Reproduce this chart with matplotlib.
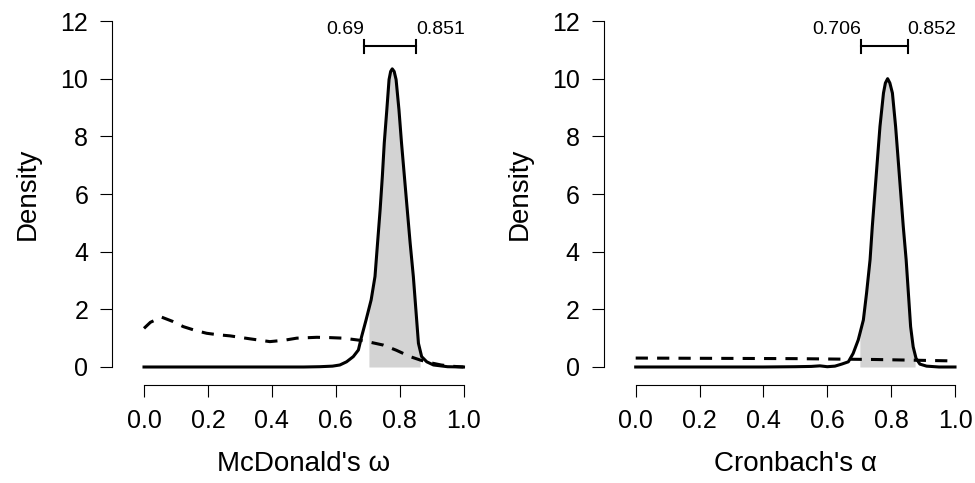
import numpy as np
import matplotlib
matplotlib.use("Agg")
import matplotlib.pyplot as plt

plt.rcParams['font.family'] = ['Liberation Sans', 'DejaVu Sans']

# posterior (solid) and prior (dashed) densities
omega_x = [0.0, 0.1, 0.2, 0.3, 0.4, 0.5, 0.55, 0.59, 0.613, 0.634, 0.655, 0.671, 0.681,
           0.695, 0.711, 0.723, 0.731, 0.739, 0.746, 0.752, 0.760, 0.767, 0.772, 0.777,
           0.783, 0.789, 0.798, 0.806, 0.815, 0.824, 0.833, 0.843, 0.851, 0.859, 0.869,
           0.885, 0.906, 0.95, 1.0]
omega_post = [0.0, 0.0, 0.0, 0.0, 0.0, 0.0, 0.01, 0.03, 0.07, 0.18, 0.36, 0.59, 1.05,
              1.63, 2.33, 3.14, 4.30, 5.45, 6.61, 7.77, 8.92, 9.97, 10.25, 10.34,
              10.25, 9.97, 8.92, 7.77, 6.61, 5.45, 4.30, 3.14, 1.98, 0.82, 0.36,
              0.18, 0.07, 0.01, 0.0]
omega_prior_x = [0.0, 0.02, 0.055, 0.09, 0.123, 0.16, 0.196, 0.23, 0.269, 0.33, 0.394,
                 0.44, 0.478, 0.541, 0.58, 0.624, 0.687, 0.749, 0.79, 0.833, 0.865,
                 0.895, 0.93, 0.958, 1.0]
omega_prior = [1.34, 1.55, 1.73, 1.58, 1.40, 1.27, 1.17, 1.12, 1.08, 0.98, 0.88,
               0.93, 1.00, 1.03, 1.02, 1.00, 0.91, 0.76, 0.58, 0.36, 0.24,
               0.15, 0.07, 0.03, 0.0]

alpha_x = [0.0, 0.1, 0.2, 0.3, 0.4, 0.5, 0.55, 0.577, 0.60, 0.624, 0.645, 0.666, 0.681,
           0.697, 0.713, 0.723, 0.734, 0.741, 0.749, 0.757, 0.765, 0.776, 0.782, 0.789,
           0.796, 0.804, 0.814, 0.822, 0.830, 0.838, 0.847, 0.854, 0.861, 0.869, 0.878,
           0.890, 0.911, 0.95, 1.0]
alpha_post = [0.0, 0.0, 0.0, 0.0, 0.0, 0.01, 0.02, 0.04, 0.01, 0.03, 0.10, 0.18, 0.47,
              0.94, 1.63, 2.56, 3.72, 4.87, 6.03, 7.19, 8.34, 9.50, 9.85, 10.0,
              9.85, 9.50, 8.34, 7.19, 6.03, 4.87, 3.72, 2.56, 1.40, 0.70, 0.30,
              0.10, 0.03, 0.0, 0.0]
alpha_prior_x = [0.0, 0.25, 0.5, 0.75, 1.0]
alpha_prior = [0.31, 0.30, 0.29, 0.26, 0.21]

omega_ci = [0.69, 0.851]
alpha_ci = [0.706, 0.852]
omega_shade = [0.704, 0.864]
alpha_shade = [0.702, 0.875]

xlabels = ["McDonald's \u03c9", "Cronbach's \u03b1"]

fig = plt.figure(figsize=(9.75, 4.83), dpi=100)
ax1 = fig.add_axes([144 / 975, 1 - 367 / 483, 319.5 / 975, 346 / 483])
ax2 = fig.add_axes([635.7 / 975, 1 - 367 / 483, 319.3 / 975, 346 / 483])

panels = [
    (ax1, omega_x, omega_post, omega_prior_x, omega_prior, omega_ci, omega_shade, xlabels[0]),
    (ax2, alpha_x, alpha_post, alpha_prior_x, alpha_prior, alpha_ci, alpha_shade, xlabels[1]),
]

for ax, px, py, qx, qy, ci, shade, lab in panels:
    px = np.array(px)
    py = np.array(py)
    # shaded area under the posterior
    inside = (px > shade[0]) & (px < shade[1])
    sx = np.concatenate([[shade[0]], px[inside], [shade[1]]])
    sy = np.concatenate([[np.interp(shade[0], px, py)], py[inside], [np.interp(shade[1], px, py)]])
    ax.fill_between(sx, 0, sy, color='#d3d3d3', lw=0, zorder=1)

    ax.plot(qx, qy, color='black', lw=2.2, linestyle=(0, (4, 3)), zorder=2, clip_on=False)
    ax.plot(px, py, color='black', lw=2.2, zorder=3, solid_joinstyle='round', clip_on=False)

    # credible interval bar
    ybar = 11.12
    ax.plot(ci, [ybar, ybar], color='black', lw=1.5, zorder=3)
    for c in ci:
        ax.plot([c, c], [ybar - 0.23, ybar + 0.23], color='black', lw=1.5, zorder=3)
    ax.text(ci[0], 11.72, str(ci[0]), ha='right', va='center', fontsize=14)
    ax.text(ci[1], 11.72, str(ci[1]), ha='left', va='center', fontsize=14)

    ax.set_xlim(0, 1)
    ax.set_ylim(0, 12)
    ax.set_xticks(np.arange(0, 1.01, 0.2))
    ax.set_xticklabels(['0.0', '0.2', '0.4', '0.6', '0.8', '1.0'])
    ax.set_yticks(np.arange(0, 13, 2))

    for s in ['top', 'right']:
        ax.spines[s].set_visible(False)
    ax.spines['left'].set_position(('outward', 23))
    ax.spines['bottom'].set_position(('outward', 12.7))
    ax.spines['left'].set_bounds(0, 12)
    ax.spines['bottom'].set_bounds(0, 1)
    ax.spines['left'].set_linewidth(0.8)
    ax.spines['bottom'].set_linewidth(0.8)
    ax.tick_params(axis='x', length=8.9, width=0.8, pad=9, labelsize=18)
    ax.tick_params(axis='y', length=8.6, width=0.8, pad=8.6, labelsize=18)

    ax.set_xlabel(lab, fontsize=20, va='center')
    ax.xaxis.set_label_coords(0.5, (367 - 464) / 346)
    ax.set_ylabel('Density', fontsize=20, va='center')
    ax.yaxis.set_label_coords((28 - 144) / 319.5, 0.5)

fig.savefig('out.png', dpi=100)
